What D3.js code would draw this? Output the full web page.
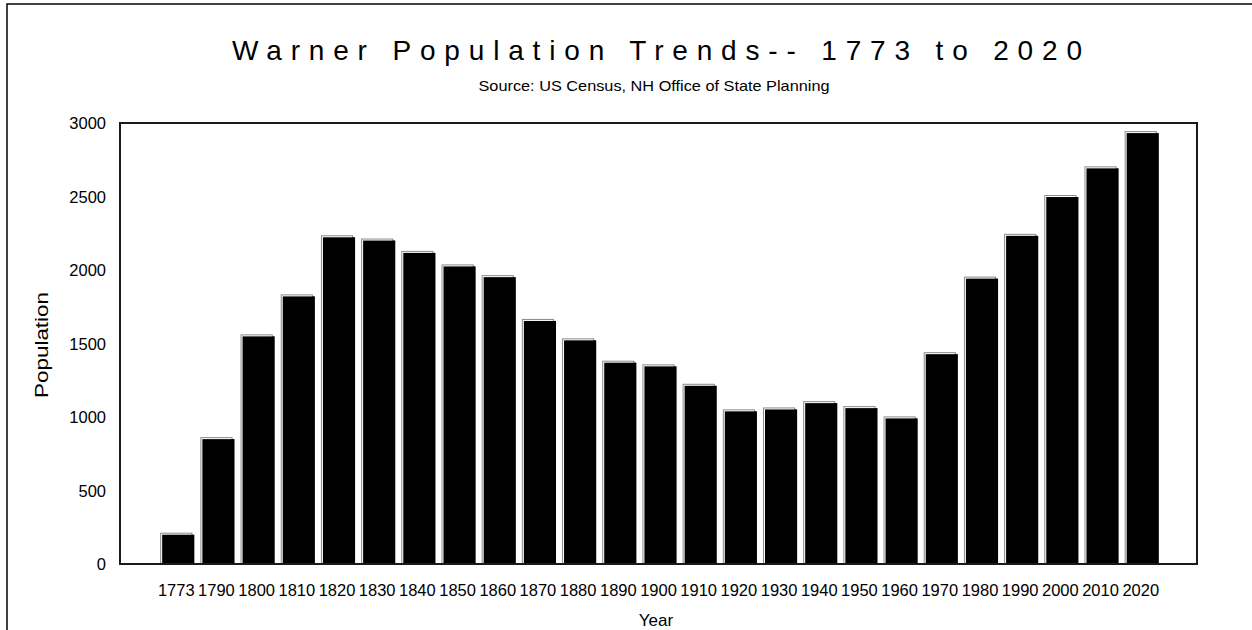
<!DOCTYPE html>
<html>
<head>
<meta charset="utf-8">
<script src="https://cdn.jsdelivr.net/npm/d3@7"></script>
<style>
  body { margin: 0; background: #fff; }
  text { font-family: "Liberation Sans", Arial, sans-serif; fill: #000; }
</style>
</head>
<body>
<svg id="chart" width="1252" height="630"></svg>
<script>
// Warner population by census year
var years = ["1773", "1790", "1800", "1810", "1820", "1830", "1840", "1850", "1860",
  "1870", "1880", "1890", "1900", "1910", "1920", "1930", "1940", "1950", "1960",
  "1970", "1980", "1990", "2000", "2010", "2020"];
var population = [213, 863, 1562, 1834, 2236, 2214, 2130, 2038, 1965,
  1667, 1535, 1383, 1358, 1226, 1052, 1065, 1108, 1074, 1004,
  1441, 1955, 2246, 2510, 2705, 2945];
var yTicks = [0, 500, 1000, 1500, 2000, 2500, 3000];

var svg = d3.select("#chart");
var plot = { left: 120, right: 1197, top: 123, bottom: 564 };

// outer frame (only top / left edges show in the picture)
svg.append("rect")
  .attr("x", 7).attr("y", 4)
  .attr("width", 1260).attr("height", 640)
  .attr("fill", "none").attr("stroke", "#111").attr("stroke-width", 1.6);

var x = d3.scaleBand()
  .domain(years)
  .range([plot.left, plot.right])
  .paddingInner(0.2)
  .paddingOuter(1);

var y = d3.scaleLinear()
  .domain([0, 3000])
  .range([plot.bottom, plot.top]);

// bars: black shadow offset down/right, then front face with grey edge
var bars = svg.append("g").selectAll("g")
  .data(years)
  .join("g");

bars.append("rect")
  .attr("x", function (d) { return x(d) + 2; })
  .attr("y", function (d, i) { return y(population[i]) + 2; })
  .attr("width", x.bandwidth())
  .attr("height", function (d, i) { return plot.bottom - y(population[i]) - 2; })
  .attr("fill", "#000");

bars.append("rect")
  .attr("x", function (d) { return x(d) + 0.5; })
  .attr("y", function (d, i) { return y(population[i]) + 0.5; })
  .attr("width", x.bandwidth() - 1)
  .attr("height", function (d, i) { return plot.bottom - y(population[i]) - 0.5; })
  .attr("fill", "#fff")
  .attr("stroke", "#8a8a8a")
  .attr("stroke-width", 1);

bars.append("rect")
  .attr("x", function (d) { return x(d) + 2; })
  .attr("y", function (d, i) { return y(population[i]) + 2; })
  .attr("width", x.bandwidth() - 1)
  .attr("height", function (d, i) { return plot.bottom - y(population[i]) - 2; })
  .attr("fill", "#000");

// plot frame
svg.append("rect")
  .attr("x", plot.left).attr("y", plot.top)
  .attr("width", plot.right - plot.left)
  .attr("height", plot.bottom - plot.top)
  .attr("fill", "none").attr("stroke", "#1a1a1a").attr("stroke-width", 2);

// axes, labels only
var yAxis = svg.append("g")
  .attr("transform", "translate(" + plot.left + ",0)")
  .call(d3.axisLeft(y).tickValues(yTicks).tickFormat(d3.format("d"))
    .tickSize(0).tickPadding(14));
yAxis.select(".domain").remove();
yAxis.selectAll("text")
  .style("font-size", "16.5px")
  .attr("dy", "0.35em");

var xAxis = svg.append("g")
  .attr("transform", "translate(0," + plot.bottom + ")")
  .call(d3.axisBottom(x).tickSize(0).tickPadding(20));
xAxis.select(".domain").remove();
xAxis.selectAll("text")
  .style("font-size", "16.5px");

// titles
svg.append("text")
  .attr("x", 657).attr("y", 60)
  .attr("text-anchor", "middle")
  .attr("textLength", 850).attr("lengthAdjust", "spacing")
  .style("font-size", "28px")
  .text("Warner Population Trends-- 1773 to 2020");

svg.append("text")
  .attr("x", 654).attr("y", 91)
  .attr("text-anchor", "middle")
  .attr("textLength", 351).attr("lengthAdjust", "spacingAndGlyphs")
  .style("font-size", "15px")
  .text("Source:  US Census, NH Office of State Planning");

svg.append("text")
  .attr("transform", "translate(48,345) rotate(-90)")
  .attr("text-anchor", "middle")
  .attr("textLength", 106).attr("lengthAdjust", "spacingAndGlyphs")
  .style("font-size", "18px")
  .text("Population");

svg.append("text")
  .attr("x", 656).attr("y", 626)
  .attr("text-anchor", "middle")
  .style("font-size", "17px")
  .text("Year");
</script>
</body>
</html>
